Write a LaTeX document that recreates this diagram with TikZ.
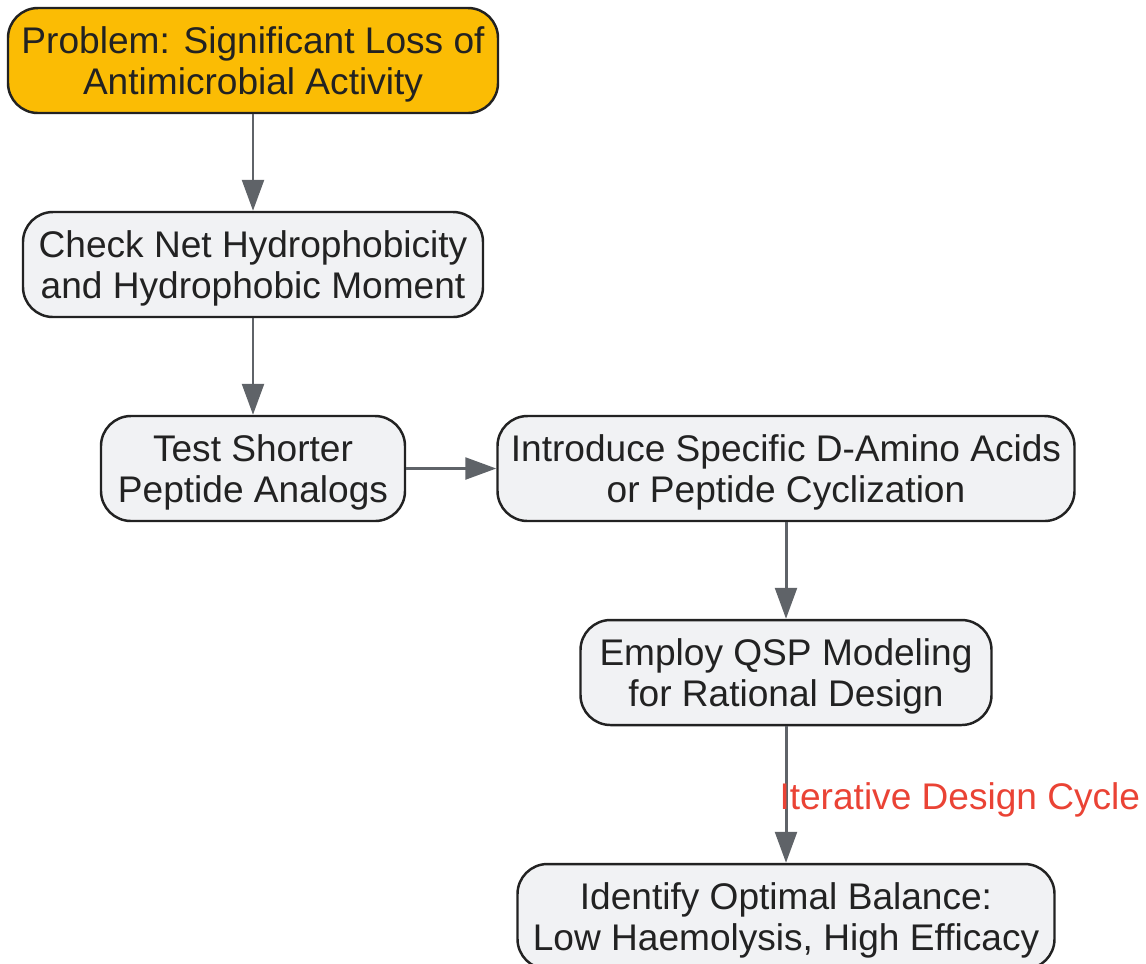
\documentclass[tikz,border=0pt]{standalone}
\usepackage{fontspec}
\setmainfont{Liberation Sans}
\usepackage{xcolor}
\usepackage{tikz}
\usetikzlibrary{shapes,arrows.meta,positioning}

\definecolor{boxfill}{HTML}{F1F2F4}
\definecolor{problemfill}{HTML}{FBBC04}
\definecolor{edgegrey}{HTML}{5F6368}
\definecolor{textdark}{HTML}{222222}
\definecolor{cyclered}{HTML}{EA4335}

\begin{document}
\begin{tikzpicture}[
    node distance=2.04cm,
    >={Triangle[length=8.8pt,width=6.2pt]},
    action/.style={rectangle, rounded corners=0.3cm, draw=textdark, fill=boxfill, line width=0.7pt,
        text=textdark, align=center, minimum height=1.05cm, inner xsep=0.1cm, text depth=0pt,
        font=\fontsize{10.55}{11.9}\selectfont},
    issue/.style={action, fill=problemfill},
    flow/.style={draw=edgegrey, line width=0.85pt, ->}
]
    \useasboundingbox (0,0) rectangle (11.46,-9.63);

    % Steps
    \node[issue, minimum width=4.9cm] (problem) at (2.53,-0.605) {Problem: Significant Loss of\\Antimicrobial Activity};
    \node[action, minimum width=4.6cm, below of=problem] (check) {Check Net Hydrophobicity\\and Hydrophobic Moment};
    \node[action, minimum width=3.04cm, below of=check] (shorter) {Test Shorter\\Peptide Analogs};
    \node[action, minimum width=5.77cm, right of=shorter, node distance=5.33cm] (introduce) {Introduce Specific D-Amino Acids\\or Peptide Cyclization};
    \node[action, minimum width=4.11cm, below of=introduce] (qsp) {Employ QSP Modeling\\for Rational Design};
    \node[action, minimum width=5.37cm, below of=qsp, node distance=2.44cm] (balance) {Identify Optimal Balance:\\Low Haemolysis, High Efficacy};

    % Arrows
    \draw[flow] (problem) -- (check);
    \draw[flow] (check) -- (shorter);
    \draw[flow] (shorter) -- (introduce);
    \draw[flow] (introduce) -- (qsp);
    \draw[flow] (qsp) -- (balance) node[midway, right, inner sep=0pt, xshift=-0.08cm, yshift=-0.05cm, text=cyclered,
        font=\fontsize{10.55}{11.9}\selectfont] {Iterative Design Cycle};
\end{tikzpicture}
\end{document}
